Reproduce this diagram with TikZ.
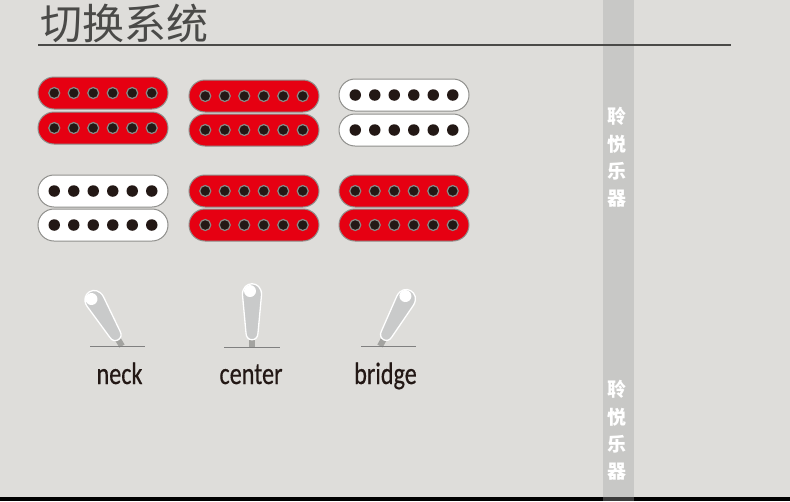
\documentclass[tikz,border=0pt]{standalone}
\usepackage{fontspec}
\usetikzlibrary{shapes.misc}
\setmainfont{Carlito}
\newfontfamily\cjk{Noto Sans CJK SC}
\newfontfamily\lblfont[FakeBold=0.5]{Carlito}
\definecolor{bgcol}{HTML}{DEDDDA}
\definecolor{bandcol}{HTML}{C8C8C6}
\definecolor{footcol}{HTML}{3C3C3C}
\definecolor{redcol}{HTML}{E60012}
\definecolor{holecol}{HTML}{231815}
\definecolor{ringcol}{HTML}{8A8A86}
\definecolor{edgecol}{HTML}{8F8F8C}
\definecolor{titlecol}{HTML}{4A4A48}
\definecolor{stemcol}{HTML}{A3A3A0}
\definecolor{levercol}{HTML}{C9CACA}

\begin{document}
\begin{tikzpicture}[x=1pt,y=-1pt,
  redbar/.style={draw=edgecol, line width=1pt, fill=redcol, rounded rectangle, minimum width=130pt, minimum height=32pt, inner sep=0pt},
  whitebar/.style={draw=edgecol, line width=1pt, fill=white, rounded rectangle, minimum width=130pt, minimum height=32pt, inner sep=0pt},
  redpole/.style={draw=ringcol, line width=1.2pt, fill=holecol, circle, minimum size=11pt, inner sep=0pt},
  whitepole/.style={fill=holecol, circle, minimum size=11.5pt, inner sep=0pt},
  brand/.style={font=\cjk\bfseries\fontsize{19}{19}\selectfont, text=white, inner sep=0pt},
  lbl/.style={font=\lblfont\fontsize{31}{31}\selectfont, text=holecol, inner sep=0pt, anchor=base},
  baseline/.style={draw=gray, line width=0.9pt},
  lever/.pic={
    \fill[stemcol] (-3,0) rectangle (3,-12);
    \draw[white, line width=1.3pt, fill=levercol] (-6,-14) -- (-9.5,-52)
      .. controls (-10,-67) and (10,-67) .. (9.5,-52) -- (6,-14)
      .. controls (6,-5) and (-6,-5) .. (-6,-14) -- cycle;
    \fill[white] (-2,-56) circle (6);
  }
]
\useasboundingbox (0,0) rectangle (790,501);
\fill[bgcol] (0,0) rectangle (790,501);
\fill[bandcol] (603,0) rectangle (634,496.5);
\fill[black] (0,496.5) rectangle (790,501);
\fill[footcol] (603,496.5) rectangle (634,501);

% title
\node[font=\cjk\fontsize{42}{42}\selectfont, text=titlecol, inner sep=0pt] (title) at (124,23) {切换系统};
\coordinate (rulea) at (38,45);
\coordinate (ruleb) at (731,45);
\draw[titlecol, line width=1.8pt] (rulea) -- (ruleb);

% pickups
\foreach \name/\xc/\yc/\kind in {
  aa/103/93/red, ab/103/128/red,
  ba/254/96/red, bb/254/130/red,
  ca/404/95/white, cb/404/130/white,
  da/103/191/white, db/103/225/white,
  ea/254/191/red, eb/254/225/red,
  fa/404/191/red, fb/404/225/red}{
  \node[\kind bar] (\name) at (\xc,\yc) {};
  \foreach \i in {-2.5,-1.5,-0.5,0.5,1.5,2.5}
    \node[\kind pole] at (\xc+19.5*\i,\yc) {};
}

% switch positions
\coordinate (nl) at (90,346.5);
\coordinate (nr) at (145,346.5);
\coordinate (cl) at (224,347.5);
\coordinate (cr) at (280,347.5);
\coordinate (bl) at (361,346.5);
\coordinate (br) at (416,346.5);
\pic[rotate=31] at (122,346) {lever};
\pic at (252,347) {lever};
\pic[rotate=-29] at (380,346) {lever};
\draw[baseline] (nl) -- (nr);
\draw[baseline] (cl) -- (cr);
\draw[baseline] (bl) -- (br);
\node[lbl] (neck) at (119.5,384) {\scalebox{.78}[1]{neck}};
\node[lbl] (center) at (251,384) {\scalebox{.78}[1]{center}};
\node[lbl] (bridge) at (385.5,384) {\scalebox{.78}[1]{bridge}};

% side band
\node[brand] (t1) at (617,116) {聆};
\node[brand] (t2) at (617,144) {悦};
\node[brand] (t3) at (617,171) {乐};
\node[brand] (t4) at (617,199) {器};
\node[brand] (t5) at (617,389) {聆};
\node[brand] (t6) at (617,417) {悦};
\node[brand] (t7) at (617,444) {乐};
\node[brand] (t8) at (617,472) {器};
\end{tikzpicture}
\end{document}
